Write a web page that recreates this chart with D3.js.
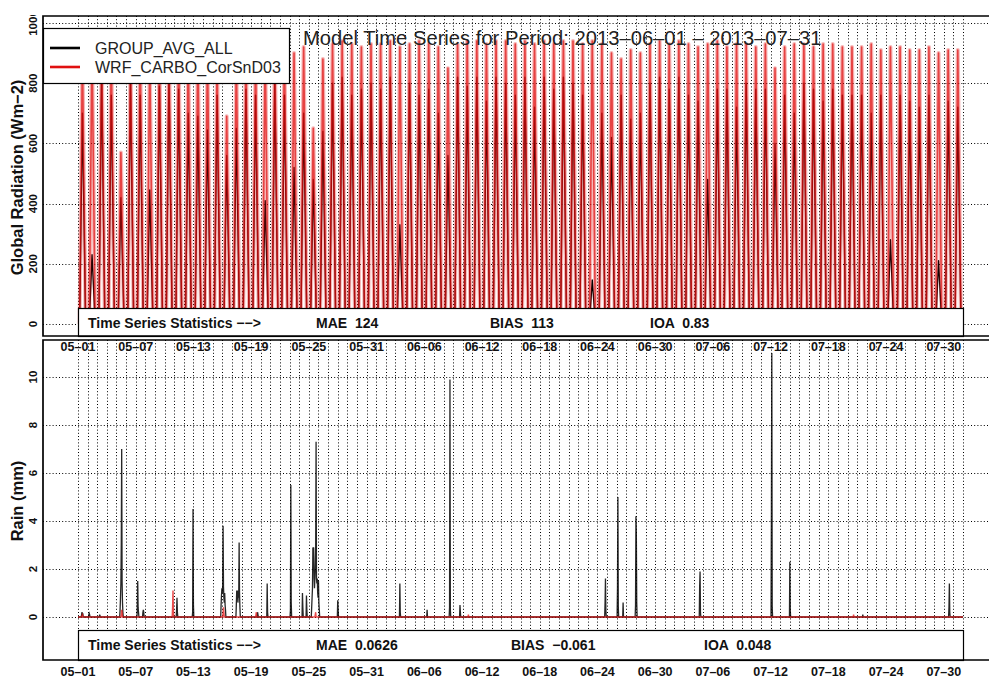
<!DOCTYPE html>
<html><head><meta charset="utf-8">
<script src="https://cdn.jsdelivr.net/npm/d3@7"></script>
<style>
body{margin:0;background:#fff}
svg{display:block;font-family:"Liberation Sans",Arial,Helvetica,sans-serif}
</style>
</head><body>
<svg id="chart" width="989" height="686"></svg>
<script>
// ---- data -------------------------------------------------------------
const periodStart = "2013-05-01T00:00:00Z";
const periodEnd   = "2013-08-01T00:00:00Z";
const seriesNames = ["GROUP_AVG_ALL", "WRF_CARBO_CorSnD03"];
const tickLabels = ["05-01","05-07","05-13","05-19","05-25","05-31","06-06","06-12",
                    "06-18","06-24","06-30","07-06","07-12","07-18","07-24","07-30"];
const radTicks  = [0, 200, 400, 600, 800, 1000];
const rainTicks = [0, 2, 4, 6, 8, 10];
const statNames = ["MAE", "BIAS", "IOA"];
const radStats  = ["124", "113", "0.83"];
const rainStats = ["0.0626", "\u22120.061", "0.048"];

// daily midday peak of global radiation, W m-2 (one value per day, 05-01 .. 07-31)
const radObsPeak = [
  700, 230, 820, 760, 420, 800, 760, 445, 790, 820,
  780, 700, 690, 645, 760, 560, 650, 780, 760, 410,
  800, 760, 520, 700, 480, 640, 800, 820, 760, 780, 800,
  780, 820, 330, 800, 760, 780, 700, 560, 820, 790,
  820, 740, 820, 800, 760, 820, 720, 820, 780, 820,
  800, 760, 146, 700, 620, 760, 680, 700, 800, 820,
  780, 820, 760, 740, 480, 780, 780, 720, 800, 780,
  780, 600, 760, 700, 800, 780, 740, 780, 760, 760,
  760, 700, 760, 280, 760, 740, 720, 760, 210, 740, 720
];
const radModPeak = [
  900, 920, 930, 910, 570, 900, 930, 880, 920, 930,
  930, 910, 920, 900, 880, 690, 890, 920, 900, 910,
  930, 920, 900, 920, 650, 880, 930, 940, 930, 920, 930,
  930, 940, 920, 930, 940, 930, 920, 850, 930, 940,
  940, 930, 940, 940, 930, 940, 930, 940, 930, 940,
  940, 930, 940, 930, 900, 880, 910, 900, 930, 940,
  930, 940, 930, 920, 930, 940, 920, 930, 930, 920,
  930, 850, 920, 930, 930, 920, 930, 930, 920, 920,
  920, 930, 910, 920, 920, 910, 910, 920, 900, 910, 910
];
// hours (UTC) where the daily radiation curve starts, peaks and ends
const sunHours = [4, 11, 19];

// hourly rain (mm): start hour of each rain spell and its hourly amounts
const rainObsEvents = [
  ["2013-05-01T09", [0.1, 0.2, 0.1, 0.15]],
  ["2013-05-02T03", [0.1, 0.15, 0.1]],
  ["2013-05-03T06", [0.1, 0.05]],
  ["2013-05-05T09", [0.3, 0.8, 1.4, 3.1, 7.0, 1.5, 0.6, 0.2]],
  ["2013-05-07T04", [0.3, 1.5, 0.4, 0.2]],
  ["2013-05-07T18", [0.2, 0.3, 0.2]],
  ["2013-05-11T06", [0.3, 0.8, 0.2]],
  ["2013-05-12T22", [0.2, 4.5, 0.5]],
  ["2013-05-15T21", [0.5, 0.9, 1.2, 1.0, 1.3, 3.8, 1.25, 0.8, 0.6, 1.0, 0.5, 0.3]],
  ["2013-05-17T11", [0.5, 1.1, 0.9, 1.1, 0.6, 1.0, 0.8, 3.1, 1.0, 0.4]],
  ["2013-05-19T16", [0.2, 0.1]],
  ["2013-05-20T16", [1.4, 0.2]],
  ["2013-05-23T02", [0.3, 5.5, 0.6]],
  ["2013-05-24T08", [1.0, 0.4]],
  ["2013-05-24T18", [0.9, 0.3]],
  ["2013-05-25T07", [0.4, 0.8, 1.2, 2.9, 2.5, 2.9, 1.6, 1.2, 1.6, 2.0, 2.9, 7.3, 1.6, 1.4, 1.6, 1.0, 0.8, 1.5, 0.6, 0.3]],
  ["2013-05-28T00", [0.7, 0.3]],
  ["2013-06-03T11", [1.4, 0.2]],
  ["2013-06-06T07", [0.3]],
  ["2013-06-08T15", [0.4, 9.9, 0.3]],
  ["2013-06-09T17", [0.5, 0.2]],
  ["2013-06-24T19", [0.6, 1.6, 0.3]],
  ["2013-06-26T02", [1.25, 5.0, 0.4]],
  ["2013-06-26T16", [0.6]],
  ["2013-06-27T23", [0.5, 4.2, 3.5, 0.6]],
  ["2013-07-04T15", [1.3, 1.9, 0.2]],
  ["2013-07-12T02", [4.3, 11.0, 0.4]],
  ["2013-07-14T00", [2.3, 0.3]],
  ["2013-07-21T14", [0.1]],
  ["2013-07-30T13", [0.4, 1.4, 0.2]]
];
const rainModEvents = [
  ["2013-05-01T10", [0.05, 0.1, 0.05]],
  ["2013-05-05T12", [0.1, 0.3, 0.2]],
  ["2013-05-10T20", [0.4, 1.1, 0.3]],
  ["2013-05-16T02", [0.2, 0.4, 0.2]],
  ["2013-05-19T12", [0.1, 0.2]],
  ["2013-05-25T16", [0.1, 0.2]],
  ["2013-06-10T14", [0.1]],
  ["2013-07-20T15", [0.1]]
];

// ---- layout -----------------------------------------------------------
const svg = d3.select("#chart");
const W = 989;
const frameLeft = 43;
const panels = [
  {top: 16,  bottom: 336, y0: 324, yTop: 23,  max: 1000, ticks: radTicks,  title: "Global Radiation (Wm\u22122)", stats: radStats,  statsTop: 308},
  {top: 340, bottom: 660, y0: 617, yTop: 377, max: 10,   ticks: rainTicks, title: "Rain (mm)",                   stats: rainStats, statsTop: 630}
];
const parse = d3.utcParse("%Y-%m-%dT%H");
const t0 = new Date(periodStart), t1 = new Date(periodEnd);
const x = d3.scaleUtc().domain([t0, t1]).range([78, 963]);
const HOUR = 3600e3;
const days = d3.utcDay.range(t0, d3.utcDay.offset(t1, 1));
const labelDates = tickLabels.map(s => new Date("2013-" + s + "T00:00:00Z"));
const dash = s => s.replace(/-/g, "\u2013");

panels.forEach((p, i) => {
  p.y = d3.scaleLinear().domain([0, p.max]).range([p.y0, p.yTop]);
  svg.append("clipPath").attr("id", "clip" + i).append("rect")
    .attr("x", frameLeft).attr("y", p.top).attr("width", W - frameLeft).attr("height", p.bottom - p.top);
});
svg.append("clipPath").attr("id", "clipPage").append("rect")
  .attr("x", 0).attr("y", 15).attr("width", W).attr("height", 686 - 15);

// grid
panels.forEach((p, i) => {
  const g = svg.append("g").attr("clip-path", `url(#clip${i})`)
    .attr("stroke", "#000").attr("stroke-width", 1).attr("stroke-dasharray", "1,2.2").attr("fill", "none");
  g.selectAll("line.h").data(p.ticks).join("line").attr("class", "h")
    .attr("x1", frameLeft).attr("x2", W).attr("y1", d => Math.round(p.y(d)) + 0.5).attr("y2", d => Math.round(p.y(d)) + 0.5);
  g.selectAll("line.v").data(days).join("line").attr("class", "v")
    .attr("y1", p.top).attr("y2", p.bottom).attr("x1", d => Math.round(x(d)) + 0.5).attr("x2", d => Math.round(x(d)) + 0.5);
});

// radiation: each day rises from zero at sunrise to its peak and back at sunset
function radPoints(peaks) {
  const pts = [];
  peaks.forEach((v, k) => {
    const d = +d3.utcDay.offset(t0, k);
    pts.push([d, 0]);
    pts.push([d + sunHours[0] * HOUR, 0]);
    pts.push([d + sunHours[1] * HOUR, v]);
    pts.push([d + sunHours[2] * HOUR, 0]);
  });
  pts.push([+t1, 0]);
  return pts;
}
// rain: zero between spells, hourly amounts inside them
function rainPoints(events) {
  const pts = [[+t0, 0]];
  events.forEach(([start, vals]) => {
    const s = +parse(start);
    pts.push([s - HOUR, 0]);
    vals.forEach((v, k) => pts.push([s + k * HOUR, v]));
    pts.push([s + vals.length * HOUR, 0]);
  });
  pts.push([+t1, 0]);
  return pts;
}

const radP = panels[0], rainP = panels[1];
const lineRad = d3.line().x(d => x(d[0])).y(d => radP.y(d[1]));
const lineRain = d3.line().x(d => x(d[0])).y(d => rainP.y(d[1]));
const RED = "#e01010";

const gRad = svg.append("g").attr("clip-path", "url(#clip0)").attr("fill", "none").attr("stroke-linejoin", "round");
gRad.append("path").attr("d", lineRad(radPoints(radObsPeak))).attr("stroke", "#000").attr("stroke-width", 1.4);
const modRadPath = lineRad(radPoints(radModPeak));
gRad.append("path").attr("d", modRadPath).attr("stroke", RED).attr("stroke-opacity", 0.3).attr("stroke-width", 4);
gRad.append("path").attr("d", modRadPath).attr("stroke", RED).attr("stroke-opacity", 0.7).attr("stroke-width", 1.6);

const gRain = svg.append("g").attr("clip-path", "url(#clip1)").attr("fill", "none");
gRain.append("path").attr("d", lineRain(rainPoints(rainObsEvents))).attr("stroke", "#000").attr("stroke-width", 1.3).attr("stroke-opacity", 0.85);
gRain.append("path").attr("d", lineRain(rainPoints(rainModEvents))).attr("stroke", RED).attr("stroke-opacity", 0.75).attr("stroke-width", 1.4);

// title over the radiation panel
svg.append("text").attr("x", 303).attr("y", 45).attr("font-size", 20.2).attr("fill", "#222")
  .text("Model Time Series for Period: 2013\u201306\u201301 \u2013 2013\u201307\u201331");

// legend
const lg = svg.append("g");
lg.append("rect").attr("x", 43.5).attr("y", 28.5).attr("width", 246).attr("height", 55)
  .attr("fill", "#fff").attr("stroke", "#000").attr("stroke-width", 1.2);
const legColors = ["#000", RED];
seriesNames.forEach((n, k) => {
  const yy = 48 + k * 19;
  lg.append("line").attr("x1", 50).attr("x2", 80).attr("y1", yy).attr("y2", yy)
    .attr("stroke", legColors[k]).attr("stroke-width", 2.6);
  lg.append("text").attr("x", 95).attr("y", yy + 5.5).attr("font-size", 16).attr("fill", "#222").text(n);
});

// statistics boxes, frames, axes
panels.forEach((p, i) => {
  const sg = svg.append("g");
  sg.append("rect").attr("x", 78.5).attr("y", p.statsTop + 0.5).attr("width", 885).attr("height", p.bottom - p.statsTop)
    .attr("fill", "#fff").attr("stroke", "#000").attr("stroke-width", 1.2);
  const base = p.statsTop + 20;
  sg.append("text").attr("x", 88).attr("y", base).attr("font-size", 14).attr("font-weight", "bold").attr("fill", "#111")
    .text("Time Series Statistics \u2212\u2212>");
  const sx = i === 0 ? [316, 490, 650] : [316, 511, 704];
  statNames.forEach((n, k) => {
    sg.append("text").attr("x", sx[k]).attr("y", base).attr("font-size", 14).attr("font-weight", "bold").attr("fill", "#111")
      .attr("xml:space", "preserve").text(n + "  " + p.stats[k]);
  });

  // frame (left, top, bottom edges; right edge lies outside the page)
  svg.append("path").attr("fill", "none").attr("stroke", "#000").attr("stroke-width", 1.7)
    .attr("d", `M${W + 5},${p.top}H${frameLeft}V${p.bottom}H${W + 5}`);

  // y tick labels (rotated, reading upward)
  svg.append("g").attr("clip-path", "url(#clipPage)").selectAll("text").data(p.ticks).join("text")
    .attr("transform", d => `translate(37,${p.y(d)}) rotate(-90)`)
    .attr("text-anchor", "middle").attr("font-size", 11.5).attr("font-weight", "bold").attr("fill", "#111")
    .text(d => d);
  // y axis title
  svg.append("text").attr("transform", `translate(23,${(p.y0 + p.yTop) / 2 + 4}) rotate(-90)`)
    .attr("text-anchor", "middle").attr("font-size", 16.5).attr("font-weight", "bold").attr("fill", "#111")
    .text(p.title);
});

// date labels: under the radiation panel and under the rain panel
[351, 676].forEach(yy => {
  svg.append("g").selectAll("text").data(labelDates).join("text")
    .attr("x", d => x(d)).attr("y", yy).attr("text-anchor", "middle")
    .attr("font-size", 12.5).attr("font-weight", "bold").attr("fill", "#111")
    .text((d, k) => dash(tickLabels[k]));
});
</script>
</body></html>
